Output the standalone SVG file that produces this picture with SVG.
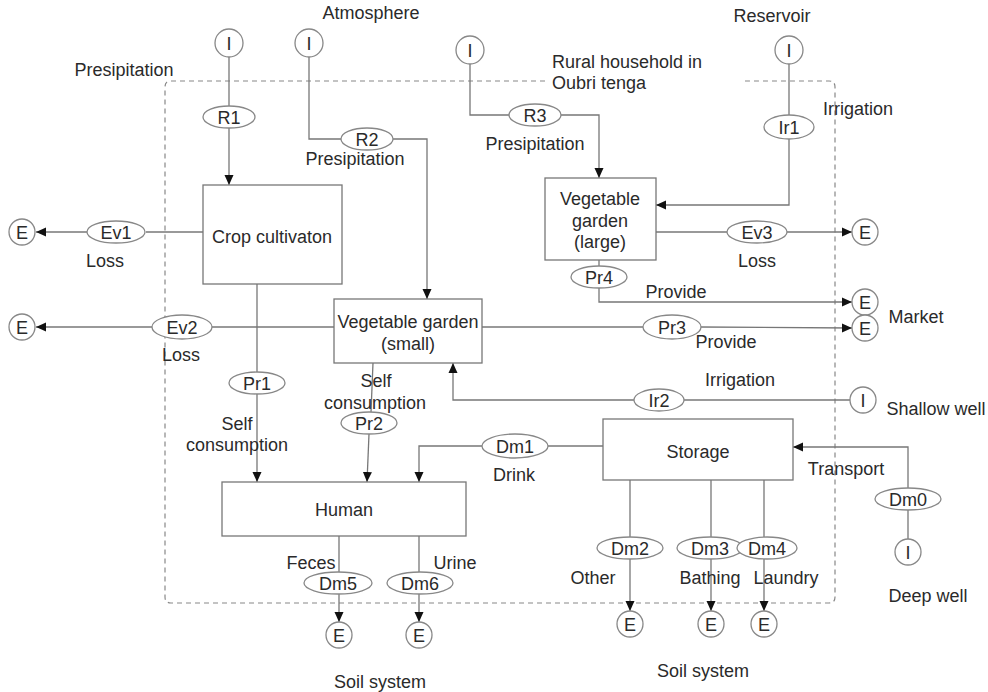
<svg xmlns="http://www.w3.org/2000/svg" width="988" height="692" viewBox="0 0 988 692">
<defs>
<marker id="arr" markerWidth="10" markerHeight="10" refX="10" refY="5" orient="auto" markerUnits="userSpaceOnUse"><path d="M0,0.5 L10,5 L0,9.5 Z" fill="#111"/></marker>
<style>
text{font-family:"Liberation Sans",Arial,sans-serif;font-size:18px;fill:#2a2a2a;}
.c{text-anchor:middle;}
.box{fill:#fff;stroke:#777;stroke-width:1.3;}
.ell{fill:#fff;stroke:#888;stroke-width:1.3;}
.circ{fill:#fff;stroke:#888;stroke-width:1.3;}
.ln{fill:none;stroke:#777;stroke-width:1.3;}
.ar{fill:none;stroke:#777;stroke-width:1.3;marker-end:url(#arr);}
.bnd{fill:none;stroke:#888;stroke-width:1.2;stroke-dasharray:5,4;}
</style>
</defs>
<rect width="988" height="692" fill="#fff"/>
<g id="boundary">
<path class="bnd" d="M545,81 L171,81 Q165,81 165,87 L165,597 Q165,603 171,603 L829,603 Q835,603 835,597 L835,87 Q835,81 829,81 L745,81"/>
</g>
<g id="connectors">
<path class="ln" d="M229,57 L229,106"/>
<path class="ar" d="M229,128 L229,185"/>
<path class="ln" d="M309,57 L309,139 L341,139"/>
<path class="ar" d="M393,139 L427,139 L427,299"/>
<path class="ln" d="M470,64 L470,115 L510,115"/>
<path class="ar" d="M561,115 L599,115 L599,178"/>
<path class="ln" d="M789,64 L789,115"/>
<path class="ar" d="M789,139 L789,205 L656,205"/>
<path class="ln" d="M203,232 L146,232"/>
<path class="ar" d="M87,232 L36,232"/>
<path class="ln" d="M334,327 L212,327"/>
<path class="ar" d="M152,327 L36,327"/>
<path class="ln" d="M656,232 L727,232"/>
<path class="ar" d="M787,232 L852,232"/>
<path class="ln" d="M599,260 L599,266"/>
<path class="ar" d="M599,288 L599,302 L852,302"/>
<path class="ln" d="M482,327 L643,327"/>
<path class="ar" d="M700,327 L852,328"/>
<path class="ln" d="M850,400 L684,400"/>
<path class="ar" d="M634,400 L453,400 L453,363"/>
<path class="ln" d="M257,284 L257,372"/>
<path class="ar" d="M257,394 L257,482"/>
<path class="ln" d="M373,363 L371,412"/>
<path class="ar" d="M369,434 L367,482"/>
<path class="ln" d="M603,446 L548,446"/>
<path class="ar" d="M482,446 L419,446 L419,482"/>
<path class="ln" d="M908,539 L908,510"/>
<path class="ar" d="M908,488 L908,447 L793,447"/>
<path class="ln" d="M630,480 L630,537"/>
<path class="ar" d="M630,559 L630,611"/>
<path class="ln" d="M711,480 L711,537"/>
<path class="ar" d="M711,559 L711,611"/>
<path class="ln" d="M764,480 L764,537"/>
<path class="ar" d="M764,559 L764,611"/>
<path class="ln" d="M339,536 L339,572"/>
<path class="ar" d="M339,594 L339,622"/>
<path class="ln" d="M419,536 L419,572"/>
<path class="ar" d="M419,594 L419,622"/>
</g>
<g id="crop"><rect class="box" x="203" y="185" width="139" height="99"/><text class="c" x="272" y="243">Crop cultivaton</text></g>
<g id="vg-small"><rect class="box" x="334" y="299" width="148" height="64"/><text class="c" x="408" y="328">Vegetable garden</text><text class="c" x="408" y="350">(small)</text></g>
<g id="vg-large"><rect class="box" x="545" y="178" width="111" height="82"/><text class="c" x="600" y="205">Vegetable</text><text class="c" x="600" y="227">garden</text><text class="c" x="600" y="248">(large)</text></g>
<g id="human"><rect class="box" x="222" y="482" width="244" height="54"/><text class="c" x="344" y="516">Human</text></g>
<g id="storage"><rect class="box" x="603" y="419" width="190" height="61"/><text class="c" x="698" y="458">Storage</text></g>
<g id="I1"><circle class="circ" cx="229" cy="43" r="14"/><text class="c" x="229" y="50">I</text></g>
<g id="I2"><circle class="circ" cx="309" cy="43" r="14"/><text class="c" x="309" y="50">I</text></g>
<g id="I3"><circle class="circ" cx="470" cy="50" r="14"/><text class="c" x="470" y="57">I</text></g>
<g id="I4"><circle class="circ" cx="789" cy="50" r="14"/><text class="c" x="789" y="57">I</text></g>
<g id="I5"><circle class="circ" cx="863" cy="400" r="13"/><text class="c" x="863" y="407">I</text></g>
<g id="I6"><circle class="circ" cx="908" cy="552" r="13"/><text class="c" x="908" y="559">I</text></g>
<g id="E1"><circle class="circ" cx="22" cy="232" r="13"/><text class="c" x="22" y="239">E</text></g>
<g id="E2"><circle class="circ" cx="22" cy="327" r="13"/><text class="c" x="22" y="334">E</text></g>
<g id="E3"><circle class="circ" cx="865" cy="232" r="13"/><text class="c" x="865" y="239">E</text></g>
<g id="E4"><circle class="circ" cx="865" cy="302" r="13"/><text class="c" x="865" y="309">E</text></g>
<g id="E5"><circle class="circ" cx="865" cy="328" r="13"/><text class="c" x="865" y="335">E</text></g>
<g id="E6"><circle class="circ" cx="630" cy="624" r="13"/><text class="c" x="630" y="631">E</text></g>
<g id="E7"><circle class="circ" cx="711" cy="624" r="13"/><text class="c" x="711" y="631">E</text></g>
<g id="E8"><circle class="circ" cx="764" cy="624" r="13"/><text class="c" x="764" y="631">E</text></g>
<g id="E9"><circle class="circ" cx="339" cy="635" r="13"/><text class="c" x="339" y="642">E</text></g>
<g id="E10"><circle class="circ" cx="419" cy="635" r="13"/><text class="c" x="419" y="642">E</text></g>
<g id="R1"><ellipse class="ell" cx="229" cy="117" rx="26" ry="11"/><text class="c" x="229" y="124">R1</text></g>
<g id="R2"><ellipse class="ell" cx="367" cy="139" rx="26" ry="11"/><text class="c" x="367" y="146">R2</text></g>
<g id="R3"><ellipse class="ell" cx="535" cy="115" rx="26" ry="11"/><text class="c" x="535" y="122">R3</text></g>
<g id="Ir1"><ellipse class="ell" cx="789" cy="127" rx="25" ry="12"/><text class="c" x="789" y="134">Ir1</text></g>
<g id="Ev1"><ellipse class="ell" cx="116" cy="232" rx="29" ry="11"/><text class="c" x="116" y="239">Ev1</text></g>
<g id="Ev2"><ellipse class="ell" cx="182" cy="327" rx="30" ry="12"/><text class="c" x="182" y="334">Ev2</text></g>
<g id="Ev3"><ellipse class="ell" cx="757" cy="232" rx="30" ry="11"/><text class="c" x="757" y="239">Ev3</text></g>
<g id="Pr4"><ellipse class="ell" cx="599" cy="277" rx="28" ry="11"/><text class="c" x="599" y="284">Pr4</text></g>
<g id="Pr3"><ellipse class="ell" cx="672" cy="327" rx="29" ry="12"/><text class="c" x="672" y="334">Pr3</text></g>
<g id="Ir2"><ellipse class="ell" cx="659" cy="400" rx="25" ry="11"/><text class="c" x="659" y="407">Ir2</text></g>
<g id="Pr1"><ellipse class="ell" cx="257" cy="383" rx="28" ry="11"/><text class="c" x="257" y="390">Pr1</text></g>
<g id="Pr2"><ellipse class="ell" cx="369" cy="423" rx="28" ry="11"/><text class="c" x="369" y="430">Pr2</text></g>
<g id="Dm1"><ellipse class="ell" cx="515" cy="446" rx="33" ry="12"/><text class="c" x="515" y="453">Dm1</text></g>
<g id="Dm0"><ellipse class="ell" cx="908" cy="499" rx="33" ry="11"/><text class="c" x="908" y="506">Dm0</text></g>
<g id="Dm2"><ellipse class="ell" cx="630" cy="548" rx="33" ry="11"/><text class="c" x="630" y="555">Dm2</text></g>
<g id="Dm3"><ellipse class="ell" cx="710" cy="548" rx="33" ry="11"/><text class="c" x="710" y="555">Dm3</text></g>
<g id="Dm4"><ellipse class="ell" cx="767" cy="548" rx="30" ry="11"/><text class="c" x="767" y="555">Dm4</text></g>
<g id="Dm5"><ellipse class="ell" cx="338" cy="583" rx="34" ry="11"/><text class="c" x="338" y="590">Dm5</text></g>
<g id="Dm6"><ellipse class="ell" cx="420" cy="583" rx="33" ry="11"/><text class="c" x="420" y="590">Dm6</text></g>
<g id="labels">
<text class="c" x="371" y="19">Atmosphere</text>
<text class="c" x="772" y="22">Reservoir</text>
<text class="c" x="124" y="76">Presipitation</text>
<text x="552" y="68">Rural household in</text>
<text x="552" y="89">Oubri tenga</text>
<text class="c" x="858" y="115">Irrigation</text>
<text class="c" x="355" y="165">Presipitation</text>
<text class="c" x="535" y="150">Presipitation</text>
<text class="c" x="105" y="267">Loss</text>
<text class="c" x="757" y="267">Loss</text>
<text class="c" x="181" y="361">Loss</text>
<text class="c" x="676" y="298">Provide</text>
<text class="c" x="726" y="348">Provide</text>
<text class="c" x="916" y="323">Market</text>
<text class="c" x="740" y="386">Irrigation</text>
<text class="c" x="936" y="415">Shallow well</text>
<text class="c" x="376" y="387">Self</text>
<text class="c" x="375" y="409">consumption</text>
<text class="c" x="237" y="430">Self</text>
<text class="c" x="237" y="451">consumption</text>
<text class="c" x="514" y="481">Drink</text>
<text class="c" x="846" y="475">Transport</text>
<text class="c" x="311" y="569">Feces</text>
<text class="c" x="455" y="569">Urine</text>
<text class="c" x="593" y="584">Other</text>
<text class="c" x="710" y="584">Bathing</text>
<text class="c" x="786" y="584">Laundry</text>
<text class="c" x="928" y="602">Deep well</text>
<text class="c" x="380" y="688">Soil system</text>
<text class="c" x="703" y="677">Soil system</text>
</g>
</svg>
